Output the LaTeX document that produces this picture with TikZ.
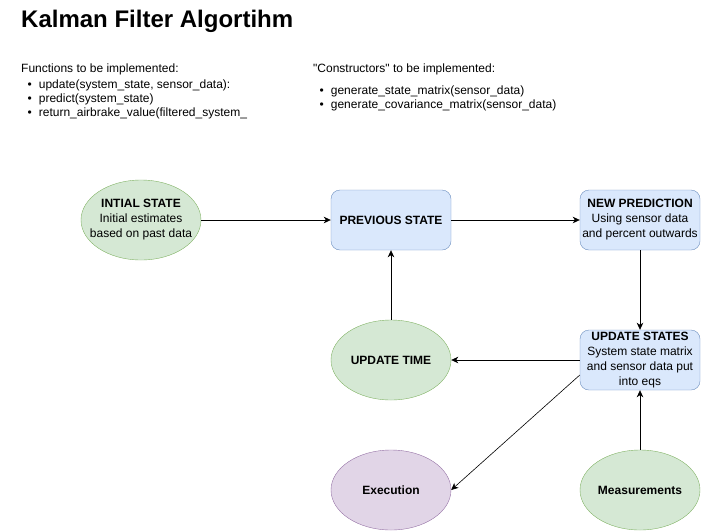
\documentclass[tikz,border=0pt]{standalone}
\usepackage{fontspec}
\setmainfont{Liberation Sans}[Ligatures=TeXOff]
\usetikzlibrary{arrows.meta,shapes.geometric}
\definecolor{greenfill}{HTML}{D5E8D4}
\definecolor{greenline}{HTML}{82B366}
\definecolor{bluefill}{HTML}{DAE8FC}
\definecolor{blueline}{HTML}{6C8EBF}
\definecolor{purplefill}{HTML}{E1D5E7}
\definecolor{purpleline}{HTML}{9673A6}
\tikzset{
    state/.style = {ellipse, draw=greenline, fill=greenfill, minimum width=120pt, minimum height=80pt, inner sep=0pt, align=center, font=\fontsize{12}{15}\selectfont},
    stagebox/.style = {rectangle, rounded corners=9pt, draw=blueline, fill=bluefill, minimum width=120pt, minimum height=60pt, inner sep=0pt, align=center, font=\fontsize{12}{15}\selectfont},
    flow/.style = {-{Stealth[length=7pt, width=6.5pt, inset=2pt]}, line width=0.8pt},
    notes/.style = {anchor=north west, align=left, inner sep=0pt, font=\fontsize{12}{14}\selectfont}
}
\newcommand{\itm}{\hspace*{6.5pt}\textbullet\hspace{7pt}}

\begin{document}
\begin{tikzpicture}[x=1pt, y=-1pt]
        \useasboundingbox (0,0) rectangle (701,531);

        \node[anchor=west, inner sep=0pt, font=\fontsize{24}{28}\bfseries] (title) at (21,21) {Kalman Filter Algortihm};
        \node[notes] (funcs) at (21,64) {Functions to be implemented:\\[2pt]
            \itm update(system\_state, sensor\_data):\\
            \itm predict(system\_state)\\
            \itm return\_airbrake\_value(filtered\_system\_};
        \node[notes] (ctors) at (313,64) {"Constructors" to be implemented:\\[8pt]
            \itm generate\_state\_matrix(sensor\_data)\\
            \itm generate\_covariance\_matrix(sensor\_data)};

        % text as a centred label, so the ellipse keeps its size
        \node[state, label={[align=center, font=\fontsize{12}{15}\selectfont]center:\textbf{INTIAL STATE}\\Initial estimates\\based on past data}] (ini) at (141,220) {};
        \node[stagebox] (prev) at (391,220) {\textbf{PREVIOUS STATE}};
        \node[stagebox] (newp) at (640,220) {\textbf{NEW PREDICTION}\\Using sensor data\\and percent outwards};
        \node[stagebox] (upd) at (640,360) {\textbf{UPDATE STATES}\\System state matrix\\and sensor data put\\into eqs};
        \node[state] (utime) at (391,360) {\textbf{UPDATE TIME}};
        \node[state, draw=purpleline, fill=purplefill] (exe) at (391,490) {\textbf{Execution}};
        \node[state] (meas) at (640,490) {\textbf{Measurements}};

        \coordinate (updlow) at ([yshift=-15pt]upd.west);

        \draw[flow] (ini) -- (prev);
        \draw[flow] (prev) -- (newp);
        \draw[flow] (newp) -- (upd);
        \draw[flow] (upd) -- (utime);
        \draw[flow] (utime) -- (prev);
        \draw[flow] (meas) -- (upd);
        \draw[flow, line width=0.6pt] (updlow) -- (exe.east);
\end{tikzpicture}
\end{document}
